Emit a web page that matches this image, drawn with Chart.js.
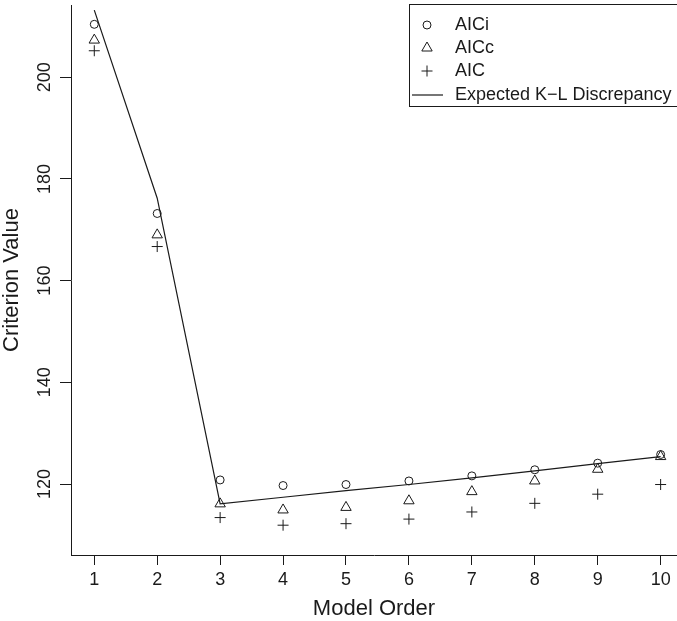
<!DOCTYPE html>
<html>
<head>
<meta charset="utf-8">
<script src="https://cdn.jsdelivr.net/npm/chart.js"></script>
<style>
  html, body { margin: 0; padding: 0; background: #fff; }
  #wrap { width: 677px; height: 621px; }
</style>
</head>
<body>
<div id="wrap"><canvas id="chart" width="677" height="621"></canvas></div>
<script>
const modelOrder = [1, 2, 3, 4, 5, 6, 7, 8, 9, 10];
const aici = [210.4, 173.2, 120.8, 119.7, 119.9, 120.6, 121.6, 122.8, 124.1, 125.8];
const aicc = [207.3, 169.0, 116.1, 114.9, 115.4, 116.7, 118.5, 120.6, 122.9, 125.4];
const aic = [205.2, 166.7, 113.4, 111.9, 112.2, 113.1, 114.5, 116.2, 118.0, 119.9];
const klDiscrepancy = [213.2, 176.2, 116.1, 117.4, 118.7, 119.9, 121.2, 122.6, 124.0, 125.4];

const xTicks = [1, 2, 3, 4, 5, 6, 7, 8, 9, 10];
const yTicks = [120, 140, 160, 180, 200];

const labels = ["AICi", "AICc", "AIC", "Expected K\u2212L Discrepancy"];

const FONT = "'Liberation Sans', Arial, Helvetica, sans-serif";
const INK = "#1a1a1a";

function pts(ys) {
    return modelOrder.map((x, i) => ({ x: x, y: ys[i] }));
}

// R-style boxed legend in the top right corner
const boxLegend = {
    id: "boxLegend",
    afterDraw(chart) {
        const ctx = chart.ctx;
        const ds = chart.data.datasets;
        const left = 409.5, top = 4.5, right = 700, bottom = 106.5;
        const rowY = [25, 48, 71, 95];
        const symX = 427, textX = 455;
        ctx.save();
        ctx.strokeStyle = INK;
        ctx.lineWidth = 1;
        ctx.strokeRect(left, top, right - left, bottom - top);
        ctx.font = "18px " + FONT;
        ctx.textBaseline = "middle";
        ctx.textAlign = "left";
        ds.forEach((d, i) => {
            const y = rowY[i];
            ctx.strokeStyle = INK;
            if (d.showLine) {
                ctx.beginPath();
                ctx.lineWidth = 1.2;
                ctx.moveTo(412, y);
                ctx.lineTo(443, y);
                ctx.stroke();
            } else {
                ctx.fillStyle = "rgba(0,0,0,0)";
                ctx.lineWidth = d.borderWidth;
                Chart.helpers.drawPoint(ctx, {
                    pointStyle: d.pointStyle,
                    radius: d.pointRadius,
                    borderWidth: d.borderWidth,
                    rotation: 0
                }, symX, y);
            }
            ctx.fillStyle = INK;
            ctx.fillText(d.label, textX, y);
        });
        ctx.restore();
    }
};

const ctx = document.getElementById("chart");
new Chart(ctx, {
    type: "scatter",
    data: {
        datasets: [
            {
                label: labels[0],
                data: pts(aici),
                pointStyle: "circle",
                pointRadius: 4,
                borderWidth: 1,
                borderColor: INK,
                backgroundColor: "rgba(0,0,0,0)"
            },
            {
                label: labels[1],
                data: pts(aicc),
                pointStyle: "triangle",
                pointRadius: 6,
                borderWidth: 1,
                borderColor: INK,
                backgroundColor: "rgba(0,0,0,0)"
            },
            {
                label: labels[2],
                data: pts(aic),
                pointStyle: "cross",
                pointRadius: 5.5,
                borderWidth: 1,
                borderColor: INK,
                backgroundColor: "rgba(0,0,0,0)"
            },
            {
                label: labels[3],
                data: pts(klDiscrepancy),
                showLine: true,
                pointRadius: 0,
                borderWidth: 1.2,
                borderColor: INK,
                backgroundColor: "rgba(0,0,0,0)",
                tension: 0
            }
        ]
    },
    options: {
        responsive: false,
        animation: false,
        devicePixelRatio: 1,
        layout: { autoPadding: false, padding: { top: 5, right: 0, bottom: 0, left: 0 } },
        plugins: {
            legend: { display: false },
            tooltip: { enabled: false }
        },
        scales: {
            x: {
                type: "linear",
                min: 0.63,
                max: 10.26,
                afterBuildTicks: s => { s.ticks = xTicks.map(v => ({ value: v })); },
                afterFit: s => { s.height = 66; s.paddingLeft = 0; s.paddingRight = 0; },
                grid: { drawOnChartArea: false, drawTicks: true, tickLength: 10, color: INK },
                border: { display: true, color: INK, width: 1 },
                ticks: {
                    color: INK,
                    font: { family: FONT, size: 18 },
                    padding: 4,
                    maxRotation: 0,
                    autoSkip: false
                },
                title: {
                    display: true,
                    text: "Model Order",
                    color: INK,
                    font: { family: FONT, size: 22, lineHeight: 1.1 },
                    padding: { top: 0, bottom: 0 }
                }
            },
            y: {
                type: "linear",
                min: 106.04,
                max: 214.2,
                afterBuildTicks: s => { s.ticks = yTicks.map(v => ({ value: v })); },
                afterFit: s => { s.width = 71; s.paddingTop = 0; s.paddingBottom = 0; },
                grid: { drawOnChartArea: false, drawTicks: true, tickLength: 11, color: INK },
                border: { display: true, color: INK, width: 1 },
                ticks: {
                    color: INK,
                    font: { family: FONT, size: 18 },
                    minRotation: 90,
                    maxRotation: 90,
                    crossAlign: "center",
                    padding: 0
                },
                title: {
                    display: true,
                    text: "Criterion Value",
                    color: INK,
                    font: { family: FONT, size: 22, lineHeight: 1.1 },
                    padding: { top: 0, bottom: 0 }
                }
            }
        }
    },
    plugins: [boxLegend]
});
</script>
</body>
</html>
